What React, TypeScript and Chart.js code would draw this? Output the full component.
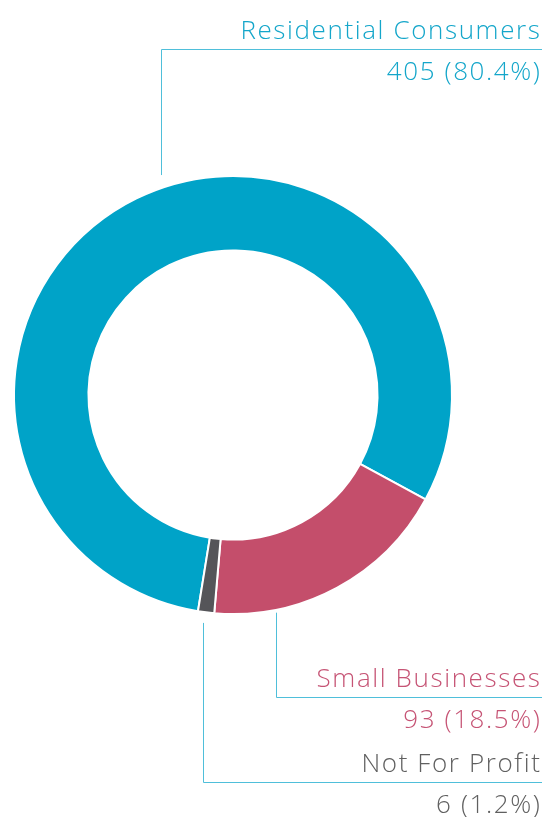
import React, { useEffect, useRef } from "react";
import { Chart, registerables } from "chart.js";

Chart.register(...registerables);

const categories = ["Residential Consumers", "Small Businesses", "Not For Profit"];
const values = [405, 93, 6];
const percentLabels = ["80.4%", "18.5%", "1.2%"];
const segmentColors = ["#00A3C8", "#C44E6B", "#555559"];
const textColors = ["#14A6CA", "#C65475", "#606060"];
// leader-line anchor angle (degrees, clockwise from 3 o'clock), gap from ring, y of elbow
const anchorAngles = [250.9, 78.6, 97.9];
const anchorGaps = [13, 3, 11];
const elbowY = [49, 697, 782];

const leaderPlugin = {
  id: "leaders",
  afterDraw(chart: any) {
    const ctx = chart.ctx;
    const meta = chart.getDatasetMeta(0);
    const arc: any = meta.data[0];
    if (!arc) return;
    const cx = arc.x;
    const cy = arc.y;
    const r = arc.outerRadius;
    const right = chart.width;
    ctx.save();
    for (let i = 0; i < categories.length; i++) {
      const a = (anchorAngles[i] * Math.PI) / 180;
      const x = Math.round(cx + Math.cos(a) * r) + 0.5;
      const yRing = cy + Math.sin(a) * r;
      const dir = Math.sin(a) < 0 ? -1 : 1;
      const y0 = yRing + dir * anchorGaps[i];
      const ey = elbowY[i] + 0.5;
      ctx.strokeStyle = "#4FBFDA";
      ctx.lineWidth = 1;
      ctx.beginPath();
      ctx.moveTo(x, y0);
      ctx.lineTo(x, ey);
      ctx.lineTo(right, ey);
      ctx.stroke();
      ctx.fillStyle = textColors[i];
      ctx.textAlign = "right";
      ctx.textBaseline = "alphabetic";
      ctx.font = "300 26px 'Open Sans', sans-serif";
      (ctx as any).letterSpacing = "1.6px";
      ctx.fillText(categories[i], right - 0.5, elbowY[i] - 10);
      ctx.fillText(`${values[i]} (${percentLabels[i]})`, right - 0.5, elbowY[i] + 31);
    }
    ctx.restore();
  },
};

export default function App() {
  const ref = useRef<HTMLCanvasElement>(null);
  useEffect(() => {
    document.body.style.margin = "0";
    const chart = new Chart(ref.current!, {
      type: "doughnut",
      data: {
        labels: categories,
        datasets: [
          {
            data: values,
            backgroundColor: segmentColors,
            borderColor: "#ffffff",
            borderWidth: 2,
          },
        ],
      },
      options: {
        animation: false,
        responsive: false,
        cutout: "66%",
        rotation: 189.2,
        layout: { padding: { left: 13, top: 175, right: 89, bottom: 202 } },
        plugins: { legend: { display: false }, tooltip: { enabled: false } },
      },
      plugins: [leaderPlugin],
    });
    return () => chart.destroy();
  }, []);
  return (
    <div style={{ width: 542, height: 817 }}>
      <canvas ref={ref} width={542} height={817} style={{ display: "block" }} />
    </div>
  );
}
